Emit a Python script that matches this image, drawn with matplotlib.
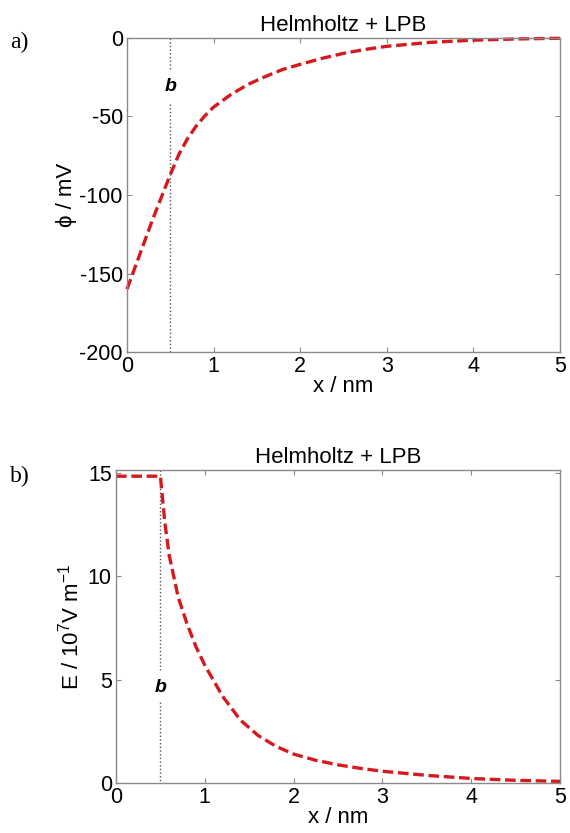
import matplotlib
matplotlib.use("Agg")
import matplotlib.pyplot as plt

# Data
x_phi = [0.0, 0.1, 0.2, 0.3, 0.4, 0.5, 0.6, 0.7, 0.8, 0.9, 1.0, 1.2, 1.4,
         1.6, 1.8, 2.0, 2.25, 2.5, 2.75, 3.0, 3.5, 4.0, 4.5, 5.0]
phi_mV = [-160, -145, -130, -115, -101, -87, -74, -64, -56, -49.5, -44, -36,
          -29.5, -24.5, -20, -16.8, -13, -9.8, -7.3, -5.3, -2.8, -1.4, -0.6, -0.2]

x_E = [0.0, 0.5, 0.55, 0.6, 0.7, 0.8, 0.9, 1.0, 1.2, 1.4, 1.6, 1.8, 2.0,
       2.25, 2.5, 2.75, 3.0, 3.5, 4.0, 4.5, 5.0]
E_field = [14.85, 14.85, 12.6, 11.0, 9.0, 7.7, 6.6, 5.7, 4.2, 3.05, 2.3,
           1.78, 1.4, 1.1, 0.88, 0.71, 0.57, 0.37, 0.22, 0.13, 0.08]

b_pos = 0.5
xticks = [0, 1, 2, 3, 4, 5]
phi_ticks = [-200, -150, -100, -50, 0]
E_ticks = [0, 5, 10, 15]

plt.rcParams['font.family'] = ['Liberation Sans', 'DejaVu Sans']
plt.rcParams['mathtext.fontset'] = 'custom'
plt.rcParams['mathtext.rm'] = 'Liberation Sans'
plt.rcParams['mathtext.it'] = 'Liberation Sans:italic'
plt.rcParams['axes.unicode_minus'] = False

RED = '#d41a1f'
GRAY = '#8a8a8a'

fig = plt.figure(figsize=(5.7, 8.33), dpi=100)
ax1 = fig.add_axes([0.2228, 0.5774, 0.7596, 0.377])
ax2 = fig.add_axes([0.2035, 0.0600, 0.7790, 0.3758])


def style(ax):
    for sp in ax.spines.values():
        sp.set_color(GRAY)
        sp.set_linewidth(1.0)
    ax.tick_params(direction='in', length=3.5, width=0.8, color=GRAY,
                   top=True, right=True, labelsize=15.5, pad=3)
    ax.set_xlim(0, 5)
    ax.set_xticks(xticks)
    ax.set_title('Helmholtz + LPB', fontsize=16, pad=5)
    ax.set_xlabel('x / nm', fontsize=16, labelpad=-1)


# panel a
style(ax1)
ax1.set_ylim(-200, 0)
ax1.set_yticks(phi_ticks)
ax1.plot([b_pos, b_pos], [0, -21], ls=':', color='#555555', lw=1.0)
ax1.plot([b_pos, b_pos], [-42, -200], ls=':', color='#555555', lw=1.0)
ax1.text(b_pos, -31, 'b', ha='center', va='center', fontsize=14,
         fontweight='bold', style='italic')
ax1.plot(x_phi, phi_mV, color=RED, lw=2.4, dashes=(3.2, 1.4), clip_on=False)
ax1.set_ylabel('ϕ / mV', fontsize=16, labelpad=2)

# panel b
style(ax2)
ax2.set_ylim(0, 15.15)
ax2.set_yticks(E_ticks)
ax2.plot([b_pos, b_pos], [15.15, 5.45], ls=':', color='#555555', lw=1.0)
ax2.plot([b_pos, b_pos], [3.9, 0], ls=':', color='#555555', lw=1.0)
ax2.text(b_pos, 4.6, 'b', ha='center', va='center', fontsize=14,
         fontweight='bold', style='italic')
ax2.plot(x_E, E_field, color=RED, lw=2.4, dashes=(3.2, 1.4), clip_on=False)
ax2.set_ylabel(r'E / 10$^{7}$V m$^{-1}$', fontsize=16, labelpad=3)

# panel letters
fig.text(0.017, 0.9496, 'a)', family='Liberation Serif', fontsize=17, va='center')
fig.text(0.017, 0.4286, 'b)', family='Liberation Serif', fontsize=17, va='center')

fig.savefig('out.png', dpi=100, facecolor='white')
